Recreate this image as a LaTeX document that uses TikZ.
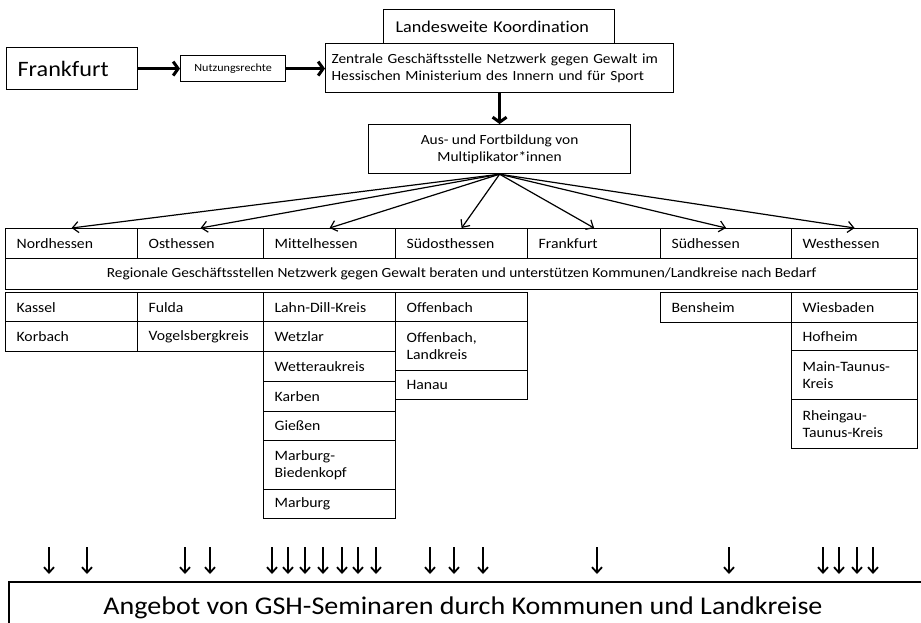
\documentclass[tikz,border=0pt]{standalone}
\usepackage{fontspec}
\setmainfont{Carlito}[FakeStretch=1.1, Ligatures=NoCommon]
\usetikzlibrary{arrows.meta}
\begin{document}
\begin{tikzpicture}[x=1pt,y=-1pt,
  bx/.style={draw, line width=1.2pt, anchor=north west, inner sep=0pt},
  cell/.style n args={2}{bx, minimum width=#1, text width=#2, align=left,
    inner xsep=11pt, font=\fontsize{14.3}{17.5}\selectfont},
  cellh/.style={minimum height=#1},
  fan/.style={line width=1.2pt, -{Straight Barb[length=6pt,width=11pt]}},
  thick arrow/.style={line width=3pt, -{Straight Barb[length=5pt,width=14pt]}},
  small arrow/.style={line width=1.8pt, -{Straight Barb[length=5.5pt,width=10pt]}}]
\useasboundingbox (0,0) rectangle (921,622);

% top
\node[bx, minimum width=131pt, minimum height=42pt, text width=109pt, align=left,
  inner xsep=11pt, font=\fontsize{22}{26}\selectfont] (frank) at (6,47) {Frankfurt};
\node[bx, minimum width=105pt, minimum height=26pt, align=center,
  font=\fontsize{11}{13}\selectfont] (nutz) at (180,55) {Nutzungsrechte};
\node[bx, minimum width=231pt, minimum height=34pt, text width=207pt, align=left,
  inner xsep=12pt, font=\fontsize{16.5}{19}\selectfont] (land) at (383,9) {Landesweite Koordination};
\node[bx, minimum width=348pt, minimum height=49pt, text width=336pt, align=left,
  inner xsep=6pt, font=\fontsize{14}{17.5}\selectfont] (zent) at (325,43)
  {Zentrale Geschäftsstelle Netzwerk gegen Gewalt im\\Hessischen Ministerium des Innern und für Sport};
\node[bx, minimum width=262pt, minimum height=49pt, align=center,
  font=\fontsize{14}{17.5}\selectfont] (aus) at (368,124)
  {Aus- und Fortbildung von\\Multiplikator*innen};

\draw[thick arrow] (frank.east) -- (nutz.west);
\draw[thick arrow] (nutz.east) -- (nutz.east -| zent.west);
\draw[thick arrow] (zent.south) -- (aus.north);

% regions row
\node[cell={132pt}{110pt}, cellh=30pt] (nord) at (5,228) {Nordhessen};
\node[cell={126pt}{104pt}, cellh=30pt] (ost) at (137,228) {Osthessen};
\node[cell={132pt}{110pt}, cellh=30pt] (mitte) at (263,228) {Mittelhessen};
\node[cell={132pt}{110pt}, cellh=30pt] (suedost) at (395,228) {Südosthessen};
\node[cell={133pt}{111pt}, cellh=30pt] (ffm) at (527,228) {Frankfurt};
\node[cell={131pt}{109pt}, cellh=30pt] (sued) at (660,228) {Südhessen};
\node[cell={126pt}{104pt}, cellh=30pt] (west) at (791,228) {Westhessen};
\node[bx, minimum width=912pt, minimum height=31pt, align=center,
  font=\fontsize{14}{17}\selectfont] (reg) at (5,258)
  {Regionale Geschäftsstellen Netzwerk gegen Gewalt beraten und unterstützen Kommunen/Landkreise nach Bedarf};

\foreach \n in {nord,ost,mitte,suedost,ffm,sued,west}
  \draw[fan] (aus.south) -- (\n.north);

% lists
\node[cell={132pt}{110pt}, cellh=29pt] (kassel) at (5,292) {Kassel};
\node[cell={132pt}{110pt}, cellh=30pt] (korbach) at (5,321) {Korbach};
\node[cell={126pt}{104pt}, cellh=29pt] (fulda) at (137,292) {Fulda};
\node[cell={126pt}{104pt}, cellh=30pt] (vogel) at (137,321) {Vogelsbergkreis};

\node[cell={132pt}{110pt}, cellh=29pt] (lahn) at (263,292) {Lahn-Dill-Kreis};
\node[cell={132pt}{110pt}, cellh=30pt] (wetzlar) at (263,321) {Wetzlar};
\node[cell={132pt}{110pt}, cellh=30pt] (wetterau) at (263,351) {Wetteraukreis};
\node[cell={132pt}{110pt}, cellh=30pt] (karben) at (263,381) {Karben};
\node[cell={132pt}{110pt}, cellh=29pt] (giessen) at (263,411) {Gießen};
\node[cell={132pt}{110pt}, cellh=49pt] (mbk) at (263,440) {Marburg-\\Biedenkopf};
\node[cell={132pt}{110pt}, cellh=29pt] (marburg) at (263,489) {Marburg};

\node[cell={132pt}{110pt}, cellh=29pt] (offb) at (395,292) {Offenbach};
\node[cell={132pt}{110pt}, cellh=49pt] (offlk) at (395,321) {Offenbach,\\Landkreis};
\node[cell={132pt}{110pt}, cellh=29pt] (hanau) at (395,370) {Hanau};

\node[cell={131pt}{109pt}, cellh=30pt] (bens) at (660,292) {Bensheim};

\node[cell={126pt}{104pt}, cellh=30pt] (wies) at (791,292) {Wiesbaden};
\node[cell={126pt}{104pt}, cellh=28pt] (hof) at (791,322) {Hofheim};
\node[cell={126pt}{104pt}, cellh=49pt] (mtk) at (791,350) {Main-Taunus-\\Kreis};
\node[cell={126pt}{104pt}, cellh=49pt] (rtk) at (791,399) {Rheingau-\\Taunus-Kreis};

% bottom
\coordinate (bl) at (9,630);
\coordinate (btl) at (9,582);
\coordinate (btr) at (930,582);
\draw[line width=1.2pt] (bl) -- (btl) -- (btr);
\node[font=\fontsize{25.5}{30}\selectfont, anchor=base, inner sep=0pt] (angebot) at (463,614)
  {Angebot von GSH-Seminaren durch Kommunen und Landkreise};
\foreach \x in {49,87,185,210,272,288,305,323,342,358,376,430,454,483,597,729,823,839,857,873}
  \draw[small arrow] (\x,547) -- (\x,574);
\end{tikzpicture}
\end{document}
